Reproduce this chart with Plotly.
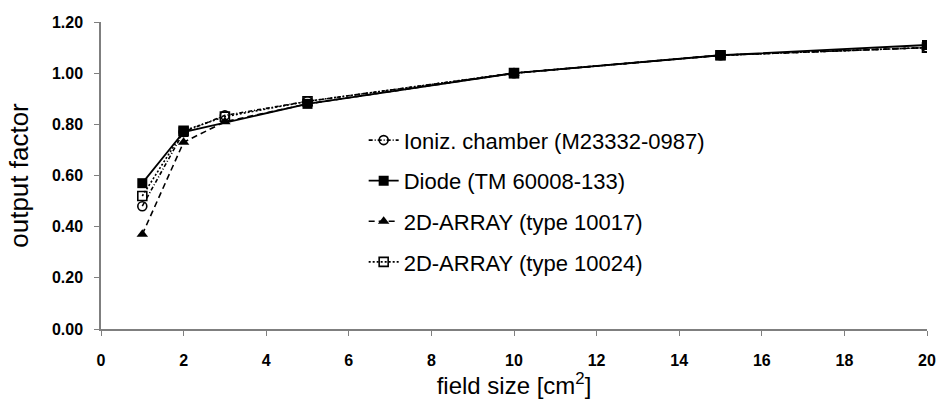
import plotly.graph_objects as go

# Field sizes (cm^2) and measured output factors per detector
field_size = [1, 2, 3, 5, 10, 15, 20]
field_size_diode = [1, 2, 5, 10, 15, 20]

ion_chamber = [0.48, 0.77, 0.835, 0.89, 1.00, 1.07, 1.10]
diode = [0.57, 0.77, 0.88, 1.00, 1.07, 1.11]
array_10017 = [0.37, 0.73, 0.81, 0.88, 1.00, 1.07, 1.10]
array_10024 = [0.52, 0.775, 0.83, 0.89, 1.00, 1.07, 1.10]

x_ticks = list(range(0, 21, 2))
y_ticks = [0.0, 0.2, 0.4, 0.6, 0.8, 1.0, 1.2]

FONT = "Liberation Sans, Arial, sans-serif"

fig = go.Figure()

fig.add_trace(go.Scatter(
    x=field_size, y=ion_chamber, mode="lines+markers",
    name="Ioniz. chamber (M23332-0987)", legendgroup="a",
    line=dict(color="black", width=1.6, dash="4px,2px,1px,2px"),
    marker=dict(symbol="circle-open", size=9, color="black", line=dict(width=1.6)),
))
fig.add_trace(go.Scatter(
    x=field_size_diode, y=diode, mode="lines+markers",
    name="Diode (TM 60008-133)", legendgroup="b",
    line=dict(color="black", width=1.8, dash="solid"),
    marker=dict(symbol="square", size=10, color="black"),
))
fig.add_trace(go.Scatter(
    x=field_size, y=array_10017, mode="lines+markers",
    name="2D-ARRAY (type 10017)", legendgroup="c",
    line=dict(color="black", width=1.6, dash="6px,4px"),
    marker=dict(symbol="triangle-up", size=10, color="black"),
))
fig.add_trace(go.Scatter(
    x=field_size, y=array_10024, mode="lines+markers",
    name="2D-ARRAY (type 10024)", legendgroup="d",
    line=dict(color="black", width=1.6, dash="2px,2px"),
    marker=dict(symbol="square-open", size=9, color="black", line=dict(width=1.6)),
))

tick_font = dict(family=FONT, size=16, color="black")

fig.update_layout(
    width=940, height=401,
    margin=dict(l=101, r=13, t=22, b=72),
    paper_bgcolor="white", plot_bgcolor="white",
    font=dict(family=FONT, color="black"),
    showlegend=True,
    legend=dict(
        x=0.318, y=0.683, xanchor="left", yanchor="top",
        font=dict(size=22, family=FONT, color="black"),
        bgcolor="rgba(0,0,0,0)", tracegroupgap=9, itemwidth=30,
    ),
    xaxis=dict(
        range=[0, 20], tickvals=x_ticks, ticktext=[f"<b>{v}</b>" for v in x_ticks],
        showgrid=False, zeroline=False, showline=True, linecolor="#7f7f7f", linewidth=1.5,
        ticks="outside", ticklen=5, tickcolor="#7f7f7f", tickfont=tick_font,
        ticklabelstandoff=11, automargin=False,
        title=dict(text="field size [cm<sup>2</sup>]", font=dict(size=24, family=FONT), standoff=0),
    ),
    yaxis=dict(
        range=[0, 1.2], tickvals=y_ticks, ticktext=[f"<b>{v:.2f}</b>" for v in y_ticks],
        showgrid=False, zeroline=False, showline=True, linecolor="#7f7f7f", linewidth=1.5,
        ticks="outside", ticklen=5, tickcolor="#7f7f7f", tickfont=tick_font,
        ticklabelstandoff=8, automargin=False,
        title=dict(text="output factor", font=dict(size=26, family=FONT), standoff=16),
    ),
)

fig.write_html("out.html")
